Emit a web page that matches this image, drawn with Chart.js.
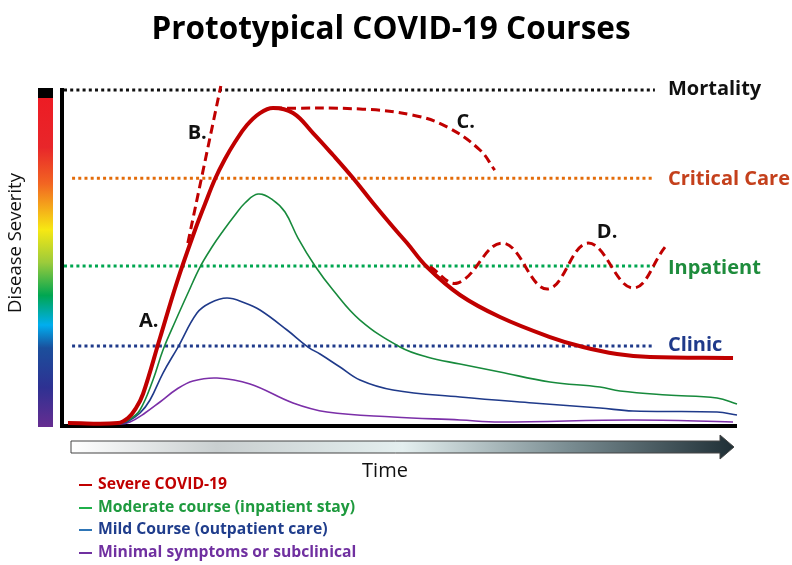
<!DOCTYPE html>
<html>
<head>
<meta charset="utf-8">
<script src="https://cdn.jsdelivr.net/npm/chart.js@4.4.1/dist/chart.umd.min.js"></script>
<style>
  html, body { margin: 0; padding: 0; background: #ffffff; }
  #wrap { width: 792px; height: 565px; }
</style>
</head>
<body>
<div id="wrap"><canvas id="covidCourses" width="792" height="565"></canvas></div>
<script>
// time runs 0..100 along the x axis, severity 0..100 (mortality = 100)
const severeTime  = [0.59, 8.02, 9.51, 10.70, 11.74, 14.26, 16.79, 19.47, 20.95, 22.44, 23.92, 25.41, 27.19, 29.12, 31.05, 34.03, 37.00, 39.97, 42.94, 45.91, 48.89, 50.97, 53.94, 58.84, 64.78, 72.21, 77.12, 82.17, 87.07, 99.41];
const severeLevel = [0.60, 0.60, 2.09, 5.07, 9.25, 25.97, 42.69, 58.21, 65.97, 73.43, 79.40, 84.48, 89.55, 93.13, 94.63, 93.13, 87.16, 80.60, 73.73, 66.27, 59.10, 54.33, 47.16, 38.81, 32.24, 26.27, 23.28, 21.19, 20.30, 20.00];

const moderateTime  = [0.59, 8.32, 9.81, 11.29, 13.22, 14.71, 16.49, 18.42, 20.21, 21.99, 23.63, 25.41, 26.89, 28.83, 31.05, 32.84, 34.77, 37.30, 39.97, 43.98, 49.93, 53.94, 58.84, 64.78, 72.21, 79.64, 82.62, 89.60, 97.03, 100];
const moderateLevel = [0.60, 0.60, 1.79, 4.48, 13.43, 22.39, 30.75, 39.40, 47.16, 53.13, 57.91, 62.69, 66.27, 68.96, 67.16, 63.58, 55.82, 47.46, 40.30, 31.34, 23.28, 20.30, 18.21, 15.82, 12.84, 11.34, 10.15, 8.96, 8.06, 6.27];

const mildTime  = [0.59, 8.32, 9.36, 11.29, 12.78, 14.71, 16.94, 19.76, 21.69, 24.22, 26.89, 29.12, 33.14, 36.26, 38.04, 41.01, 43.98, 48.89, 58.84, 69.69, 79.64, 84.55, 97.03, 100];
const mildLevel = [0.30, 0.60, 0.90, 3.58, 7.46, 15.52, 23.28, 33.43, 36.42, 37.91, 36.42, 34.33, 28.36, 23.28, 21.19, 17.31, 13.43, 10.45, 8.36, 6.57, 5.07, 4.18, 3.88, 2.99];

const minimalTime  = [0.59, 8.32, 9.81, 12.04, 14.26, 16.79, 19.17, 22.73, 27.64, 34.03, 39.08, 48.89, 58.84, 64.78, 84.55, 99.41];
const minimalLevel = [0.30, 0.30, 0.90, 3.58, 6.87, 10.75, 13.13, 14.03, 12.24, 6.57, 3.88, 2.39, 1.49, 0.90, 1.49, 0.90];

// dashed alternatives B (fulminant), C (plateau), D (relapsing)
const courseBTime  = [18.4, 23.3];
const courseBLevel = [54.3, 101.2];
const courseCTime  = [31.05, 44.4, 51.9, 56.9, 61.8, 64.0];
const courseCLevel = [94.63, 94.3, 92.5, 89.0, 82.1, 76.1];
const courseDTime  = [54.4, 58.5, 65.2, 71.8, 77.9, 84.5, 89.3];
const courseDLevel = [47.2, 42.4, 54.3, 40.6, 54.3, 40.9, 53.1];

const thresholdNames  = ['Mortality', 'Critical Care', 'Inpatient', 'Clinic'];
const thresholdLevels = [100, 73.7, 47.5, 23.6];
const thresholdStart  = [0, 1.2, 0, 1.2];
const thresholdEnd    = 87.8;

const markerLabels = ['A.', 'B.', 'C.', 'D.'];
const markerTime   = [12.6, 19.8, 59.7, 80.7];
const markerLevel  = [31.0, 87.0, 90.4, 57.6];

const legendLabels = ['Severe COVID-19', 'Moderate course (inpatient stay)', 'Mild Course (outpatient care)', 'Minimal symptoms or subclinical'];

const severeColor = '#c00000';
const thresholdColors = ['#111111', '#e36c0a', '#00a650', '#1f3a8a'];
const thresholdTextColors = ['#111111', '#c4401c', '#1e8c3c', '#1f3a8a'];
const legendTextColors = ['#c00000', '#1e9a3e', '#1f3d8c', '#7030a0'];
const legendDashColors = ['#c00000', '#1fb04a', '#2e75b6', '#7030a0'];

function toPoints(xs, ys) {
    return xs.map((x, i) => ({ x: x, y: ys[i] }));
}

function curve(label, xs, ys, color, width, dash) {
    return {
        label: label,
        data: toPoints(xs, ys),
        borderColor: color,
        backgroundColor: color,
        borderWidth: width,
        borderDash: dash || [],
        pointRadius: 0,
        tension: 0.4,
        fill: false,
        clip: false
    };
}

let datasets = [
    curve('Severe COVID-19', severeTime, severeLevel, severeColor, 4),
    curve('B', courseBTime, courseBLevel, severeColor, 3, [9, 5]),
    curve('C', courseCTime, courseCLevel, severeColor, 3, [9, 5]),
    curve('D', courseDTime, courseDLevel, severeColor, 3, [9, 5]),
    curve('Moderate', moderateTime, moderateLevel, '#178a3c', 1.6),
    curve('Mild', mildTime, mildLevel, '#1f3a8a', 1.6),
    curve('Minimal', minimalTime, minimalLevel, '#7b2fa8', 1.6)
];
thresholdNames.forEach((name, i) => {
    datasets.push({
        label: name,
        data: [{ x: thresholdStart[i], y: thresholdLevels[i] }, { x: thresholdEnd, y: thresholdLevels[i] }],
        borderColor: thresholdColors[i],
        borderWidth: 3,
        borderDash: [3, 3.2],
        pointRadius: 0,
        tension: 0,
        clip: false
    });
});

const decorations = {
    id: 'decorations',
    beforeDatasetsDraw(chart) {
        const ctx = chart.ctx;
        const area = chart.chartArea;
        const y0 = chart.scales.y.getPixelForValue(0);

        // severity colour bar
        const barTop = 88, barBottom = 427;
        ctx.save();
        ctx.fillStyle = '#000000';
        ctx.fillRect(38, barTop, 15, 10);
        let g = ctx.createLinearGradient(0, barTop + 10, 0, barBottom);
        g.addColorStop(0, '#ed1c24');
        g.addColorStop(0.15, '#e8262a');
        g.addColorStop(0.26, '#f26522');
        g.addColorStop(0.40, '#f7e813');
        g.addColorStop(0.50, '#9ccb3b');
        g.addColorStop(0.60, '#00a651');
        g.addColorStop(0.69, '#00aeef');
        g.addColorStop(0.76, '#1b4f9c');
        g.addColorStop(0.88, '#2e3192');
        g.addColorStop(1, '#662d91');
        ctx.fillStyle = g;
        ctx.fillRect(38, barTop + 10, 15, barBottom - barTop - 10);

        // axes
        ctx.strokeStyle = '#000000';
        ctx.lineWidth = 4;
        ctx.beginPath();
        ctx.moveTo(area.left - 2, 88);
        ctx.lineTo(area.left - 2, y0 + 1);
        ctx.lineTo(area.right, y0 + 1);
        ctx.stroke();

        // y axis title
        ctx.translate(16, 243);
        ctx.rotate(-Math.PI / 2);
        ctx.fillStyle = '#111111';
        ctx.font = '18.5px "Open Sans"';
        ctx.textAlign = 'center';
        ctx.textBaseline = 'middle';
        ctx.fillText('Disease Severity', 0, 0);
        ctx.restore();
    },
    afterDraw(chart) {
        const ctx = chart.ctx;
        const xs = chart.scales.x;
        const ys = chart.scales.y;
        ctx.save();
        ctx.textBaseline = 'middle';

        // title
        ctx.fillStyle = '#000000';
        ctx.textAlign = 'center';
        ctx.font = 'bold 31.5px "Open Sans"';
        ctx.fillText('Prototypical COVID-19 Courses', 391, 30);

        // threshold labels
        ctx.textAlign = 'left';
        ctx.font = 'bold 20px "Open Sans"';
        const labelX = xs.getPixelForValue(thresholdEnd) + 13;
        const shift = [-1, 1, 2, -1];
        thresholdNames.forEach((name, i) => {
            ctx.fillStyle = thresholdTextColors[i];
            ctx.fillText(name, labelX, ys.getPixelForValue(thresholdLevels[i]) + shift[i]);
        });

        // course markers
        ctx.fillStyle = '#111111';
        ctx.textAlign = 'center';
        ctx.font = 'bold 20px "Open Sans"';
        markerLabels.forEach((m, i) => {
            ctx.fillText(m, xs.getPixelForValue(markerTime[i]), ys.getPixelForValue(markerLevel[i]));
        });

        // time arrow
        const ax0 = 71, ax1 = 720, tip = 734, top = 441, bot = 453, mid = 447;
        let g = ctx.createLinearGradient(ax0, 0, tip, 0);
        g.addColorStop(0, '#ffffff');
        g.addColorStop(0.22, '#c9cfd0');
        g.addColorStop(0.5, '#e4efef');
        g.addColorStop(0.75, '#7a8d92');
        g.addColorStop(1, '#1f2f36');
        ctx.fillStyle = g;
        ctx.strokeStyle = '#444444';
        ctx.lineWidth = 1;
        ctx.beginPath();
        ctx.moveTo(ax0, top);
        ctx.lineTo(ax1, top);
        ctx.lineTo(ax1, 435);
        ctx.lineTo(tip, mid);
        ctx.lineTo(ax1, 459);
        ctx.lineTo(ax1, bot);
        ctx.lineTo(ax0, bot);
        ctx.closePath();
        ctx.fill();
        ctx.stroke();

        ctx.fillStyle = '#111111';
        ctx.font = '20px "Open Sans"';
        ctx.fillText('Time', 385, 471);

        // legend
        ctx.textAlign = 'left';
        ctx.font = 'bold 15.7px "Open Sans"';
        const rows = [485, 508, 530, 553];
        legendLabels.forEach((txt, i) => {
            ctx.strokeStyle = legendDashColors[i];
            ctx.lineWidth = 2;
            ctx.beginPath();
            ctx.moveTo(79, rows[i]);
            ctx.lineTo(92, rows[i]);
            ctx.stroke();
            ctx.fillStyle = legendTextColors[i];
            ctx.fillText(txt, 98, rows[i]);
        });
        ctx.restore();
    }
};

let canvasCovid = document.getElementById('covidCourses');
let ctxCovid = canvasCovid.getContext('2d');

let covidChart = new Chart(ctxCovid, {
    type: 'line',
    data: { datasets: datasets },
    options: {
        responsive: false,
        animation: false,
        layout: {
            padding: { left: 64, right: 55, top: 80, bottom: 140 }
        },
        plugins: {
            legend: { display: false },
            tooltip: { enabled: false }
        },
        scales: {
            x: { type: 'linear', min: 0, max: 100, display: false },
            y: { type: 'linear', min: 0, max: 103, display: false }
        }
    },
    plugins: [decorations]
});
</script>
</body>
</html>
